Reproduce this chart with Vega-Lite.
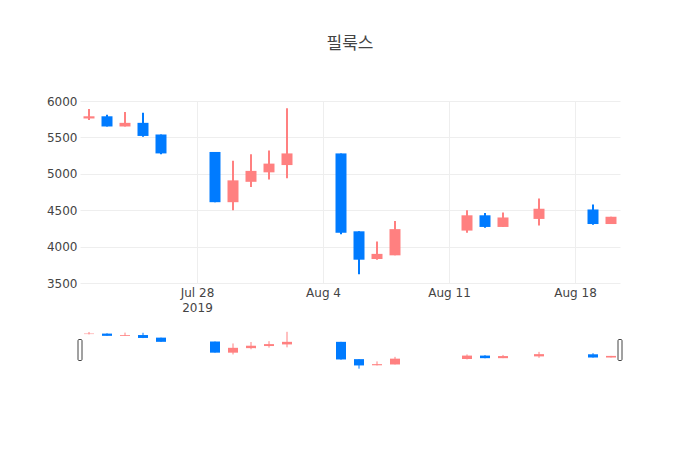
{
  "$schema": "https://vega.github.io/schema/vega-lite/v6.json",
  "padding": {"left": 46, "top": 35, "right": 10, "bottom": 10},
  "background": "white",
  "bounds": "flush",
  "spacing": 48,
  "config": {
    "view": {"stroke": null},
    "axis": {
      "labelFont": "DejaVu Sans",
      "labelFontSize": 12,
      "labelColor": "#444",
      "gridColor": "#eee",
      "gridWidth": 1,
      "domain": false,
      "ticks": false,
      "labelOverlap": false,
      "title": null
    }
  },
  "data": {
    "values": [
      {"date": "2019-07-22T00:00:00", "open": 5760, "high": 5890, "low": 5740, "close": 5790},
      {"date": "2019-07-23T00:00:00", "open": 5790, "high": 5810, "low": 5650, "close": 5650},
      {"date": "2019-07-24T00:00:00", "open": 5650, "high": 5850, "low": 5650, "close": 5700},
      {"date": "2019-07-25T00:00:00", "open": 5700, "high": 5840, "low": 5510, "close": 5520},
      {"date": "2019-07-26T00:00:00", "open": 5540, "high": 5540, "low": 5270, "close": 5280},
      {"date": "2019-07-29T00:00:00", "open": 5300, "high": 5300, "low": 4610, "close": 4610},
      {"date": "2019-07-30T00:00:00", "open": 4610, "high": 5180, "low": 4500, "close": 4910},
      {"date": "2019-07-31T00:00:00", "open": 4890, "high": 5270, "low": 4820, "close": 5040},
      {"date": "2019-08-01T00:00:00", "open": 5020, "high": 5320, "low": 4920, "close": 5140},
      {"date": "2019-08-02T00:00:00", "open": 5120, "high": 5900, "low": 4940, "close": 5280},
      {"date": "2019-08-05T00:00:00", "open": 5280, "high": 5280, "low": 4170, "close": 4190},
      {"date": "2019-08-06T00:00:00", "open": 4210, "high": 4210, "low": 3620, "close": 3820},
      {"date": "2019-08-07T00:00:00", "open": 3830, "high": 4070, "low": 3820, "close": 3900},
      {"date": "2019-08-08T00:00:00", "open": 3880, "high": 4350, "low": 3880, "close": 4240},
      {"date": "2019-08-12T00:00:00", "open": 4220, "high": 4500, "low": 4190, "close": 4430},
      {"date": "2019-08-13T00:00:00", "open": 4430, "high": 4460, "low": 4260, "close": 4270},
      {"date": "2019-08-14T00:00:00", "open": 4270, "high": 4470, "low": 4270, "close": 4400},
      {"date": "2019-08-16T00:00:00", "open": 4380, "high": 4660, "low": 4290, "close": 4520},
      {"date": "2019-08-19T00:00:00", "open": 4510, "high": 4580, "low": 4300, "close": 4310},
      {"date": "2019-08-20T00:00:00", "open": 4310, "high": 4410, "low": 4310, "close": 4410}
    ]
  },
  "vconcat": [
    {
      "width": 540,
      "height": 182,
      "title": {
        "text": "필룩스",
        "fontSize": 17,
        "fontWeight": "normal",
        "font": "Noto Sans CJK KR",
        "color": "#444",
        "anchor": "middle",
        "frame": "group",
        "offset": 42
      },
      "encoding": {
        "x": {
          "field": "date",
          "type": "temporal",
          "scale": {
            "domain": [
              {"year": 2019, "month": 7, "date": 21, "hours": 12},
              {"year": 2019, "month": 8, "date": 20, "hours": 12}
            ],
            "padding": 0
          },
          "axis": {
            "values": [
              {"year": 2019, "month": 7, "date": 28},
              {"year": 2019, "month": 8, "date": 4},
              {"year": 2019, "month": 8, "date": 11},
              {"year": 2019, "month": 8, "date": 18}
            ],
            "tickCount": 20,
            "labelExpr": "month(datum.value) == 6 ? [timeFormat(datum.value, '%b %-d'), '2019'] : timeFormat(datum.value, '%b %-d')",
            "labelLineHeight": 15,
            "labelPadding": 4
          }
        },
        "color": {
          "condition": {"test": "datum.open < datum.close", "value": "#FF8080"},
          "value": "#007BFF"
        }
      },
      "layer": [
        {
          "mark": {"type": "rule", "strokeWidth": 2},
          "encoding": {
            "y": {
              "field": "low",
              "type": "quantitative",
              "scale": {"domain": [3500, 6000], "nice": false, "zero": false},
              "axis": {
                "values": [3500, 4000, 4500, 5000, 5500, 6000],
                "tickCount": 20,
                "format": "d",
                "labelPadding": 3
              }
            },
            "y2": {"field": "high"}
          }
        },
        {
          "mark": {"type": "bar", "size": 11},
          "encoding": {
            "y": {"field": "open", "type": "quantitative"},
            "y2": {"field": "close"}
          }
        }
      ]
    },
    {
      "width": 540,
      "height": 38,
      "encoding": {
        "x": {
          "field": "date",
          "type": "temporal",
          "scale": {
            "domain": [
              {"year": 2019, "month": 7, "date": 21, "hours": 12},
              {"year": 2019, "month": 8, "date": 20, "hours": 12}
            ],
            "padding": 0
          },
          "axis": null
        }
      },
      "layer": [
        {
          "mark": {"type": "rule", "strokeWidth": 1},
          "encoding": {
            "y": {
              "field": "low",
              "type": "quantitative",
              "scale": {"domain": [3600, 5950], "nice": false, "zero": false},
              "axis": null
            },
            "y2": {"field": "high"},
            "color": {
              "condition": {"test": "datum.open < datum.close", "value": "#FF8080"},
              "value": "#007BFF"
            }
          }
        },
        {
          "mark": {"type": "bar", "size": 10},
          "encoding": {
            "y": {"field": "open", "type": "quantitative"},
            "y2": {"field": "close"},
            "color": {
              "condition": {"test": "datum.open < datum.close", "value": "#FF8080"},
              "value": "#007BFF"
            }
          }
        },
        {
          "data": {
            "values": [
              {"edge": "2019-07-21T12:00:00", "mid": 4775},
              {"edge": "2019-08-20T12:00:00", "mid": 4775}
            ]
          },
          "mark": {
            "type": "tick",
            "orient": "vertical",
            "thickness": 4,
            "size": 21,
            "fill": "#fff",
            "stroke": "#444",
            "strokeWidth": 1,
            "cornerRadius": 1,
            "opacity": 1
          },
          "encoding": {
            "x": {"field": "edge", "type": "temporal"},
            "y": {"field": "mid", "type": "quantitative"}
          }
        }
      ]
    }
  ]
}
